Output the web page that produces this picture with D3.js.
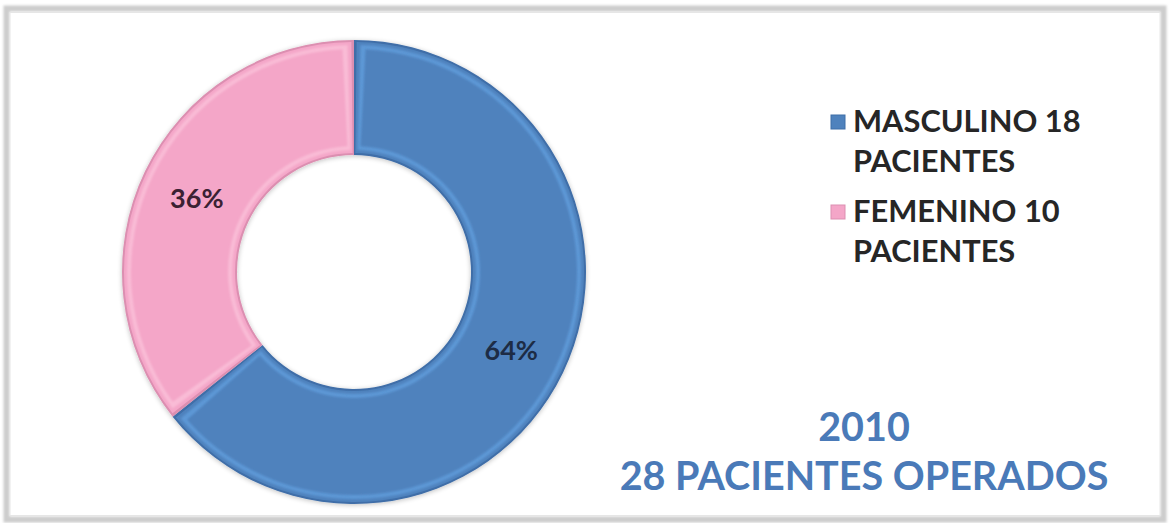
<!DOCTYPE html>
<html>
<head>
<meta charset="utf-8">
<script src="https://cdn.jsdelivr.net/npm/d3@7"></script>
<style>
  html, body { margin: 0; padding: 0; background: #ffffff; }
  svg { display: block; }
  text { font-family: Lato, "Open Sans", sans-serif; font-weight: bold; }
</style>
</head>
<body>
<svg id="chart" width="1172" height="523"></svg>
<script>
// Patients operated in 2010, by sex
const categories = ["MASCULINO", "FEMENINO"];
const patients = [18, 10];
const legendLabels = [["MASCULINO 18", "PACIENTES"], ["FEMENINO 10", "PACIENTES"]];
const titleLines = ["2010", "28 PACIENTES OPERADOS"];

const baseColors = ["#4f82bd", "#f4a6c8"];
const rimColors = ["#3f6ea8", "#dc8fb1"];
const lightColors = ["#5d98d6", "#f9bcd6"];
const labelColors = ["#1d2c45", "#3b2133"];

const svg = d3.select("#chart");
const W = 1172, H = 523;

// frame with soft gray edge
const defs = svg.append("defs");
const blur = defs.append("filter").attr("id", "soft").attr("x", "-10%").attr("y", "-10%").attr("width", "120%").attr("height", "120%");
blur.append("feGaussianBlur").attr("stdDeviation", 1.2);

const shade = defs.append("filter").attr("id", "ringShadow").attr("x", "-10%").attr("y", "-10%").attr("width", "120%").attr("height", "120%");
shade.append("feGaussianBlur").attr("in", "SourceAlpha").attr("stdDeviation", 2.5).attr("result", "b");
shade.append("feOffset").attr("in", "b").attr("dx", 0).attr("dy", 1).attr("result", "o");
shade.append("feComponentTransfer").attr("in", "o").attr("result", "s")
  .append("feFuncA").attr("type", "linear").attr("slope", 0.25);
const mrg = shade.append("feMerge");
mrg.append("feMergeNode").attr("in", "s");
mrg.append("feMergeNode").attr("in", "SourceGraphic");

svg.append("rect").attr("width", W).attr("height", H).attr("fill", "#ffffff");
svg.append("rect")
  .attr("x", 6.5).attr("y", 8.5).attr("width", 1157).attr("height", 511)
  .attr("fill", "none").attr("stroke", "#cdcdcd").attr("stroke-width", 6)
  .attr("filter", "url(#soft)");
svg.append("rect")
  .attr("x", 10).attr("y", 12.5).attr("width", 1150).attr("height", 503)
  .attr("fill", "#ffffff").attr("stroke", "#e6e6e6").attr("stroke-width", 1);

// donut
const cx = 354, cy = 272;
const rOuter = 232, rInner = 117;
const total = d3.sum(patients);

const pie = d3.pie().sort(null).value(d => d);
const arcs = pie(patients);

const g = svg.append("g").attr("transform", `translate(${cx},${cy})`);
const ring = g.append("g").attr("filter", "url(#ringShadow)");

function insetArc(d, inset) {
  const rMid = (rOuter + rInner) / 2;
  const da = inset / rMid;
  return d3.arc()
    .innerRadius(rInner + inset)
    .outerRadius(rOuter - inset)
    .startAngle(d.startAngle + da)
    .endAngle(d.endAngle - da)();
}

arcs.forEach((d, i) => {
  ring.append("path").attr("d", insetArc(d, 0)).attr("fill", rimColors[i]);
  ring.append("path").attr("d", insetArc(d, 2)).attr("fill", baseColors[i]);
  ring.append("path").attr("d", insetArc(d, 5)).attr("fill", lightColors[i]).attr("filter", "url(#soft)");
  ring.append("path").attr("d", insetArc(d, 9)).attr("fill", baseColors[i]).attr("filter", "url(#soft)");
});

// percentage labels at slice centroids
const labelArc = d3.arc().innerRadius(rInner).outerRadius(rOuter);
g.selectAll("text.pct")
  .data(arcs)
  .join("text")
  .attr("class", "pct")
  .attr("transform", d => {
    const [x, y] = labelArc.centroid(d);
    return `translate(${x},${y + 5})`;
  })
  .attr("text-anchor", "middle")
  .attr("dominant-baseline", "middle")
  .attr("font-size", 27)
  .attr("fill", (d, i) => labelColors[i])
  .text(d => Math.round(d.value / total * 100) + "%");

// legend
const legend = svg.append("g").attr("transform", "translate(831,0)");
const legendY = d3.scalePoint().domain(categories).range([132, 222]);
categories.forEach((c, i) => {
  const y0 = legendY(c);
  legend.append("rect")
    .attr("x", 0).attr("y", y0 - 17).attr("width", 14).attr("height", 14)
    .attr("fill", baseColors[i]).attr("stroke", rimColors[i]).attr("stroke-width", 1);
  legendLabels[i].forEach((line, k) => {
    legend.append("text")
      .attr("x", 22).attr("y", y0 + k * 40)
      .attr("font-size", 30.8)
      .attr("fill", "#262626")
      .text(line);
  });
});

// title
const title = svg.append("g");
titleLines.forEach((line, k) => {
  title.append("text")
    .attr("x", 864).attr("y", 441 + k * 49)
    .attr("text-anchor", "middle")
    .attr("font-size", 39.5)
    .attr("fill", "#4a7ab8")
    .text(line);
});
</script>
</body>
</html>
